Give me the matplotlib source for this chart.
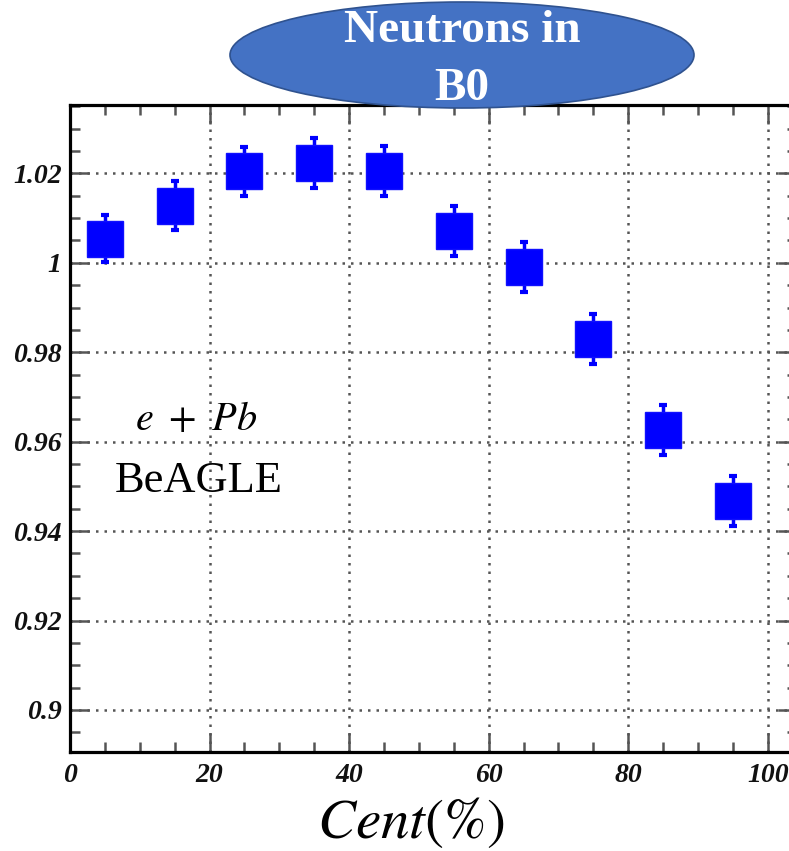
import matplotlib
matplotlib.use("Agg")
import matplotlib.pyplot as plt
from matplotlib.patches import Ellipse
from matplotlib.ticker import MultipleLocator, FuncFormatter

plt.rcParams['mathtext.fontset'] = 'stix'

# --- data ---
cent = [5, 15, 25, 35, 45, 55, 65, 75, 85, 95]
ratio = [1.0054, 1.0128, 1.0205, 1.0224, 1.0206, 1.0072, 0.9990, 0.9829, 0.9626, 0.9467]
err = [0.0053, 0.0054, 0.0055, 0.0056, 0.0056, 0.0056, 0.0056, 0.0056, 0.0056, 0.0056]

xticks = [0, 20, 40, 60, 80, 100]
yticks = [0.9, 0.92, 0.94, 0.96, 0.98, 1.0, 1.02]

fig = plt.figure(figsize=(7.89, 8.51), dpi=100)
ax = fig.add_axes([70 / 789, 1 - 752 / 851, (797 - 70) / 789, (752 - 105) / 851])

ax.errorbar(cent, ratio, yerr=err, fmt='s', color='#0000ff', markersize=26,
            markeredgecolor='#1010ff', ecolor='#0000ff', elinewidth=2.5,
            capsize=3, capthick=3, zorder=5)

ax.set_xlim(0, 104.2)
ax.set_ylim(0.8906, 1.0353)
ax.set_xticks(xticks)
ax.set_yticks(yticks)
ax.xaxis.set_minor_locator(MultipleLocator(5))
ax.yaxis.set_minor_locator(MultipleLocator(0.005))
ax.yaxis.set_major_formatter(FuncFormatter(lambda v, p: f"{round(v, 3):g}"))

ax.grid(True, which='major', color='#555555', linestyle=(0, (1.0, 2.4)), linewidth=1.8)
ax.tick_params(which='both', direction='in', top=True, right=True, color='#555555', width=1.8)
ax.tick_params(which='major', length=14, pad=6)
ax.tick_params(which='minor', length=7)
ax.tick_params(axis='x', which='major', pad=8)
for lab in ax.get_xticklabels() + ax.get_yticklabels():
    lab.set_fontfamily('Liberation Serif')
    lab.set_fontweight('bold')
    lab.set_fontstyle('italic')
    lab.set_fontsize(20)
    lab.set_color('#111111')
for side in ['left', 'bottom', 'top', 'right']:
    ax.spines[side].set_linewidth(2.3)
    ax.spines[side].set_color('black')

# overlay in pixel coordinates for the title ellipse and annotations
ov = fig.add_axes([0, 0, 1, 1], zorder=10)
ov.set_xlim(0, 789)
ov.set_ylim(851, 0)
ov.axis('off')

ov.add_patch(Ellipse((462, 55), 464, 106, facecolor='#4472c4', edgecolor='#2f528f', linewidth=1.2))
ov.text(462, 42, "Neutrons in", color='white', fontsize=34, fontweight='bold',
        family='Liberation Serif', ha='center', va='baseline')
ov.text(462, 100, "B0", color='white', fontsize=34, fontweight='bold',
        family='Liberation Serif', ha='center', va='baseline')

ov.text(196, 430, r"$e\ +\ Pb$", fontsize=29, color='black', ha='center', va='baseline')
ov.text(199, 492, "BeAGLE", fontsize=32, family='Liberation Serif', color='black',
        ha='center', va='baseline')
ov.text(411, 838, r"$Cent(\%)$", fontsize=41, color='black', ha='center', va='baseline')

fig.savefig("out.png", dpi=100)
